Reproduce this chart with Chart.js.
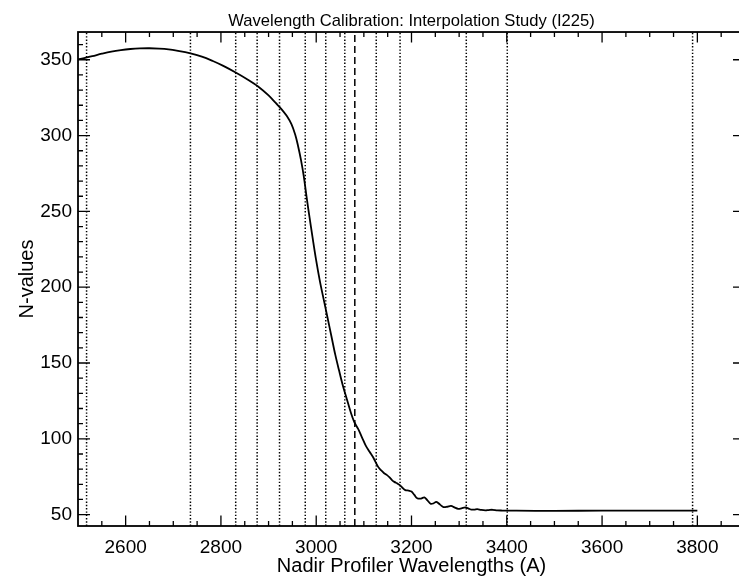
<!DOCTYPE html>
<html>
<head>
<meta charset="utf-8">
<script src="https://cdn.jsdelivr.net/npm/chart.js@4"></script>
<style>
  html, body { margin: 0; padding: 0; background: #fff; overflow: hidden; }
  #wrap { width: 746px; height: 576px; }
</style>
</head>
<body>
<div id="wrap"><canvas id="calib" width="746" height="576"></canvas></div>
<script>
// Curva de N-values
const waveLen = [2500, 2515, 2530, 2550, 2570, 2590, 2610, 2630, 2650, 2670, 2690, 2710, 2734, 2760, 2783,
  2805, 2830, 2855, 2878, 2900, 2915, 2927, 2938, 2948, 2956, 2962, 2968, 2974, 2980, 2986, 2992,
  3000, 3008, 3016, 3024, 3032, 3040, 3048, 3056, 3064, 3072, 3080, 3088, 3096, 3104, 3112, 3120,
  3130, 3136, 3142, 3148, 3154, 3159, 3164, 3170, 3175, 3181, 3187, 3194, 3200, 3206, 3212, 3220,
  3227, 3233, 3240, 3246, 3252, 3260, 3267, 3275, 3283, 3290, 3298, 3305, 3313, 3320, 3326, 3332,
  3338, 3346, 3355, 3362, 3370, 3380, 3390, 3420, 3500, 3600, 3700, 3800]
const nValues = [350.3, 351.3, 352.4, 354, 355.4, 356.4, 357.1, 357.5, 357.6, 357.4, 356.9, 355.9, 354.4, 352.1, 349.2,
  346, 341.8, 337.2, 332.4, 326.5, 321.5, 317.5, 313, 307.5, 300.5, 293, 284, 273, 259, 246, 233.5,
  217.5, 203.5, 191.5, 179.5, 167.5, 155.5, 145, 135, 126.5, 118, 111, 106.5, 101, 95.5, 91.5, 87.5,
  81.5, 79.3, 77.5, 76.2, 74.5, 72.8, 71.6, 70.6, 69.6, 67.7, 66.2, 65.8, 65.2, 63, 60.8, 60.6,
  61.4, 59.6, 57.2, 57.4, 58.4, 56.6, 55, 55.2, 55.8, 54.8, 53.8, 54.2, 54.8, 54, 53.3, 53.3,
  53.6, 53.1, 52.8, 53, 53.2, 52.8, 52.7, 52.6, 52.5, 52.6, 52.6, 52.7]

// Lineas verticales (punteadas y la de trazos)
const dottedLines = [2518, 2736, 2831, 2876, 2923, 2977, 3020, 3060, 3126, 3176, 3315, 3401, 3790]
const dashedLines = [3081]

// Etiquetas de los ejes
const xTickLabels = [2600, 2800, 3000, 3200, 3400, 3600, 3800]
const yTickLabels = [50, 100, 150, 200, 250, 300, 350]

const X_MIN = 2500, X_MAX = 3900
const Y_MIN = 42.5, Y_MAX = 368.3

const FONT = "'Liberation Sans', Arial, Helvetica, sans-serif"

const vLine = (x, dash) => ({
  data: [{ x: x, y: Y_MIN }, { x: x, y: Y_MAX }],
  borderColor: '#000',
  borderWidth: 1.5,
  borderDash: dash,
  pointRadius: 0,
  tension: 0
})

const datasets = [{
  data: waveLen.map((w, i) => ({ x: w, y: nValues[i] })),
  borderColor: '#000',
  borderWidth: 1.8,
  pointRadius: 0,
  tension: 0.35
}]
for (let x of dottedLines) datasets.push(vLine(x, [1.4, 1.9]))
for (let x of dashedLines) datasets.push(vLine(x, [7, 4]))

// Caja y marcas hacia adentro, estilo IDL
const boxTicks = {
  id: 'boxTicks',
  afterDraw(chart) {
    const { ctx, chartArea: a, scales: { x, y } } = chart
    ctx.save()
    ctx.strokeStyle = '#000'
    ctx.lineWidth = 1.3
    ctx.beginPath()
    for (let v = 2550; v < X_MAX; v += 50) {
      const px = x.getPixelForValue(v)
      const len = xTickLabels.includes(v) ? 10.5 : 5
      ctx.moveTo(px, a.bottom); ctx.lineTo(px, a.bottom - len)
      ctx.moveTo(px, a.top); ctx.lineTo(px, a.top + len)
    }
    for (let v = 50; v < Y_MAX; v += 10) {
      const py = y.getPixelForValue(v)
      const len = yTickLabels.includes(v) ? 12 : 5
      ctx.moveTo(a.left, py); ctx.lineTo(a.left + len, py)
      ctx.moveTo(a.right, py); ctx.lineTo(a.right - len, py)
    }
    ctx.stroke()
    ctx.lineWidth = 1.8
    ctx.strokeRect(a.left, a.top, a.right - a.left, a.bottom - a.top)
    ctx.restore()
  }
}

new Chart(document.getElementById('calib'), {
  type: 'line',
  data: { datasets: datasets },
  plugins: [boxTicks],
  options: {
    responsive: false,
    animation: false,
    events: [],
    layout: { padding: { right: 1 } },
    plugins: {
      legend: { display: false },
      tooltip: { enabled: false },
      title: {
        display: true,
        fullSize: false,
        text: 'Wavelength Calibration: Interpolation Study (I225)',
        color: '#000',
        font: { family: FONT, size: 16.6, weight: 'normal', lineHeight: 1.2 },
        padding: { top: 11, bottom: 1.1 }
      }
    },
    scales: {
      x: {
        type: 'linear',
        min: X_MIN,
        max: X_MAX,
        afterBuildTicks: (s) => { s.ticks = xTickLabels.map(v => ({ value: v })) },
        afterFit: (s) => { s.height = 50 },
        grid: { display: false, drawTicks: false },
        border: { display: false },
        ticks: {
          color: '#000',
          padding: 10,
          maxRotation: 0,
          callback: (v) => String(v),
          font: { family: FONT, size: 19 }
        },
        title: {
          display: true,
          text: 'Nadir Profiler Wavelengths (A)',
          color: '#000',
          font: { family: FONT, size: 20, lineHeight: 1.0 },
          padding: 0
        }
      },
      y: {
        type: 'linear',
        min: Y_MIN,
        max: Y_MAX,
        afterBuildTicks: (s) => { s.ticks = yTickLabels.map(v => ({ value: v })) },
        afterFit: (s) => { s.width = 78 },
        grid: { display: false, drawTicks: false },
        border: { display: false },
        ticks: {
          color: '#000',
          padding: 6,
          callback: (v) => String(v),
          font: { family: FONT, size: 19 }
        },
        title: {
          display: true,
          text: 'N-values',
          color: '#000',
          font: { family: FONT, size: 20, lineHeight: 1.0 },
          padding: { top: 17, bottom: 0 }
        }
      }
    }
  }
})
</script>
</body>
</html>
